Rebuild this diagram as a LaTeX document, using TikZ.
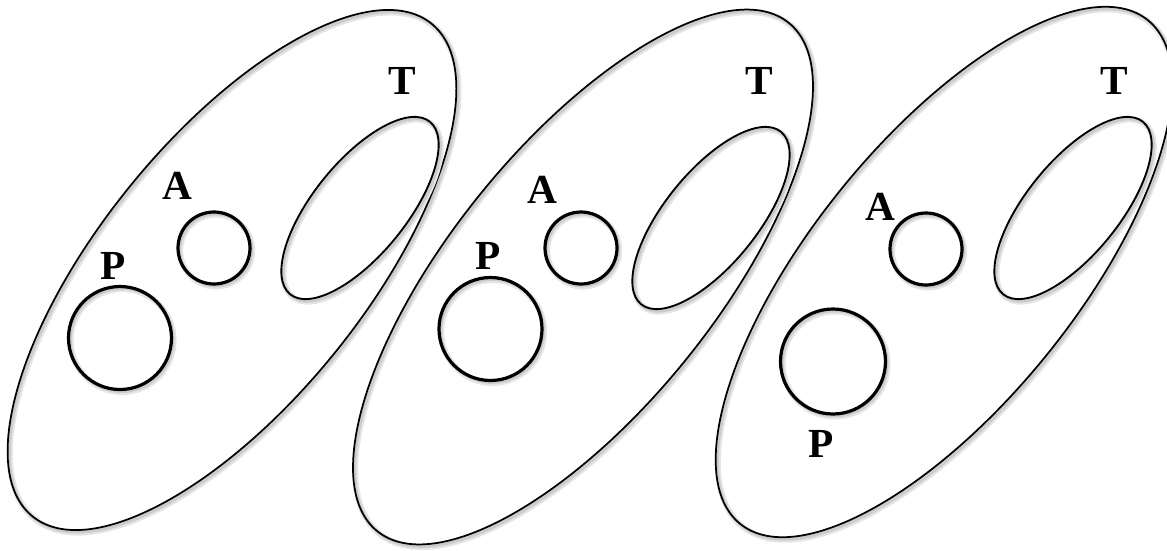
\documentclass[tikz,border=0pt]{standalone}
\usepackage{fontspec}
\setmainfont{Liberation Serif}[BoldFont={Liberation Serif Bold}]
\usetikzlibrary{shapes.geometric}
\tikzset{
  shad/.style={
    preaction={draw=black!10, line width=4.5pt, transform canvas={shift={(1.6pt,-1.9pt)}}},
    preaction={draw=black!20, line width=2.2pt, transform canvas={shift={(1.3pt,-1.5pt)}}}},
  bigell/.style={ellipse, draw=black, line width=1.3pt, inner sep=0pt, outer sep=0pt,
    rotate=51, minimum height=0.75pt*264, shad},
  inell/.style={ellipse, draw=black, line width=1.4pt, inner sep=0pt, outer sep=0pt,
    rotate=51, minimum width=0.75pt*222, minimum height=0.75pt*93, shad},
  ring/.style={circle, draw=black, line width=2.4pt, inner sep=0pt, outer sep=0pt, shad},
  lab/.style={inner sep=0pt, font=\fontsize{31pt}{31pt}\selectfont\bfseries}
}
\begin{document}
\begin{tikzpicture}[x=0.75pt,y=-0.75pt]
\useasboundingbox (0,0) rectangle (1167,550);
% first set
\node[bigell, minimum width=0.75pt*634] (E1) at (232,270) {};
\node[inell] (I1) at (360,208) {};
\node[ring, minimum size=0.75pt*72] (A1) at (214,248) {};
\node[ring, minimum size=0.75pt*103] (P1) at (120,338) {};
\node[lab] (T1l) at (402,81) {T};
\node[lab] (A1l) at (177,186) {A};
\node[lab] (P1l) at (113,265.5) {P};
% second set
\node[bigell, minimum width=0.75pt*654] (E2) at (583,277) {};
\node[inell] (I2) at (711,218) {};
\node[ring, minimum size=0.75pt*72] (A2) at (581,248) {};
\node[ring, minimum size=0.75pt*103] (P2) at (490.5,329) {};
\node[lab] (T2l) at (759,81) {T};
\node[lab] (A2l) at (542,189.5) {A};
\node[lab] (P2l) at (488,256) {P};
% third set
\node[bigell, minimum width=0.75pt*648] (E3) at (944,272) {};
\node[inell] (I3) at (1073,208) {};
\node[ring, minimum size=0.75pt*72] (A3) at (926,249) {};
\node[ring, minimum size=0.75pt*105] (P3) at (833,361.5) {};
\node[lab] (T3l) at (1114,81) {T};
\node[lab] (A3l) at (880,206.5) {A};
\node[lab] (P3l) at (821,444) {P};
\end{tikzpicture}
\end{document}
